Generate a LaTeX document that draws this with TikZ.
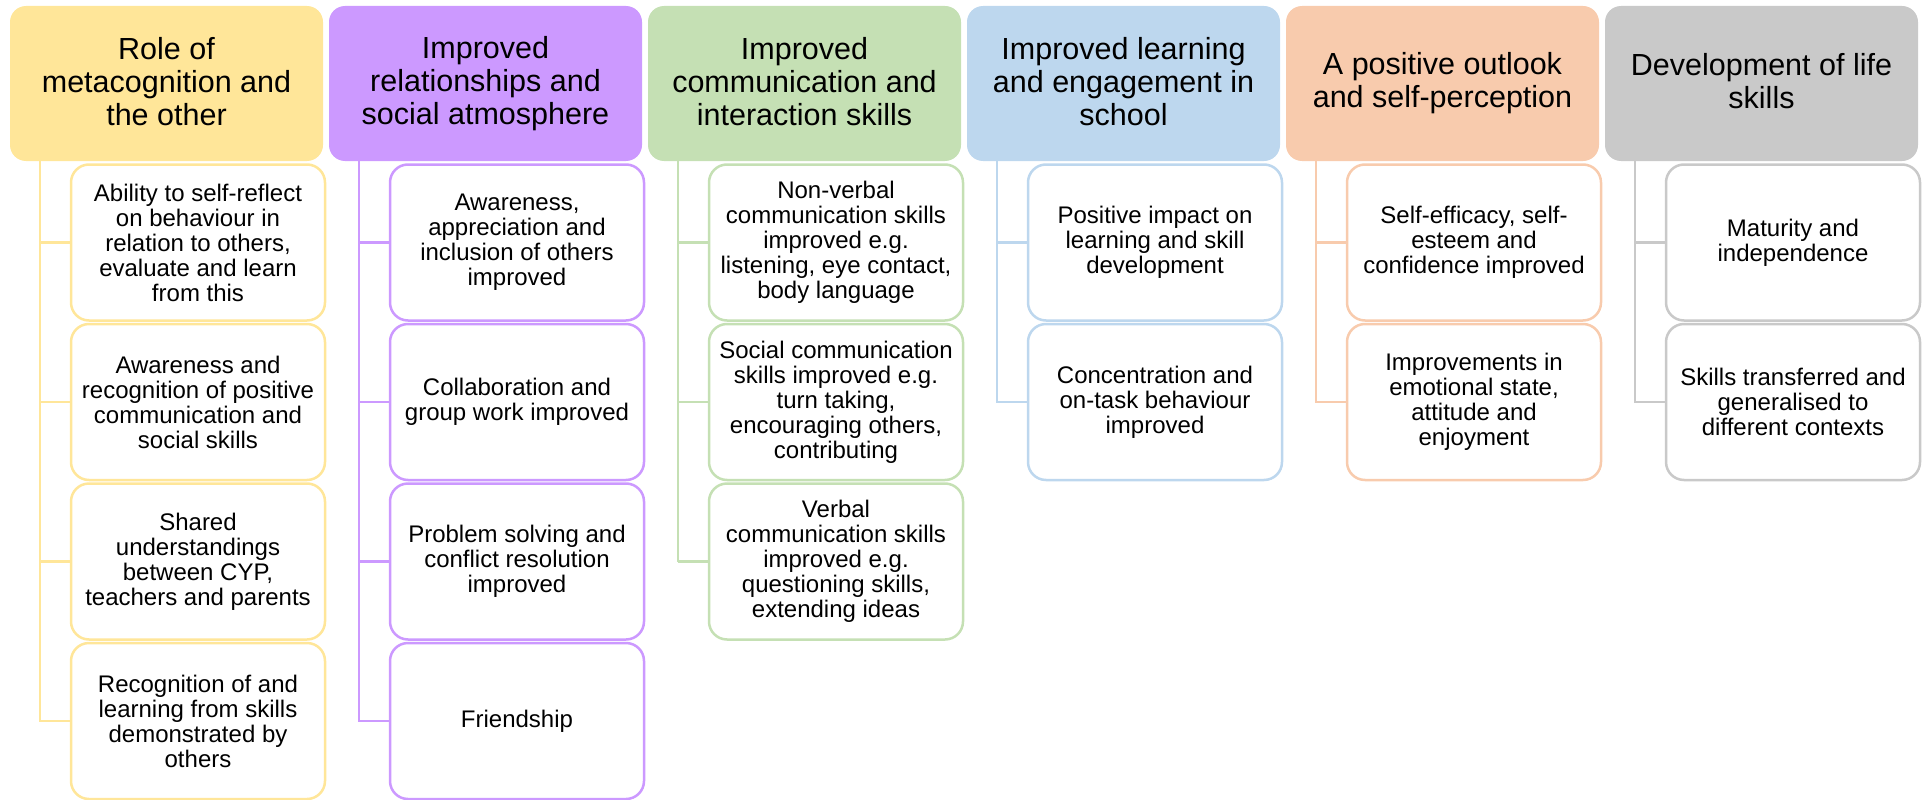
\documentclass[tikz,border=0pt]{standalone}
\usepackage{fontspec}
\setmainfont{Liberation Sans}
\usepackage{xcolor}
\definecolor{colorMeta}{HTML}{FFE699}
\definecolor{colorRelation}{HTML}{CC99FF}
\definecolor{colorComm}{HTML}{C5E0B4}
\definecolor{colorLearn}{HTML}{BDD7EE}
\definecolor{colorOutlook}{HTML}{F8CBAD}
\definecolor{colorLife}{HTML}{C9C9C9}
\usepackage{tikz}
\usetikzlibrary{positioning}
\tikzset{head/.style={rectangle, rounded corners=16pt, minimum width=313pt, minimum height=155pt, inner sep=4pt, outer sep=0pt, align=center, font=\fontsize{30.5}{33}\selectfont, execute at begin node=\rule{0pt}{28pt}, execute at end node=\rule[-5pt]{0pt}{5pt}}}
\tikzset{theme/.style={rectangle, draw, fill=white, line width=2.5pt, rounded corners=18pt, minimum width=254pt, minimum height=156pt, inner sep=4pt, outer sep=0pt, align=center, font=\fontsize{24}{25}\selectfont}}

\begin{document}
\begin{tikzpicture}[x=1pt, y=1pt, node distance=3.5pt, link/.style={line width=2.5pt}]
\useasboundingbox (0,0) rectangle (1928,-800);
% headers
\node[head, fill=colorMeta, anchor=north west] (c1) at (10,-6) {Role of\\metacognition and\\the other};
\node[head, fill=colorRelation, right=6pt of c1] (c2) {Improved\\relationships and\\social atmosphere};
\node[head, fill=colorComm, right=6pt of c2] (c3) {Improved\\communication and\\interaction skills};
\node[head, fill=colorLearn, right=6pt of c3] (c4) {Improved learning\\and engagement in\\school};
\node[head, fill=colorOutlook, right=6pt of c4] (c5) {A positive outlook\\and self-perception};
\node[head, fill=colorLife, right=6pt of c5] (c6) {Development of life\\skills};
% connectors
\draw [link, colorMeta] ([xshift=30pt]c1.south west) -- ([xshift=30pt]c1.south west |- 0,-722);
\draw [link, colorRelation] ([xshift=30pt]c2.south west) -- ([xshift=30pt]c2.south west |- 0,-722);
\draw [link, colorComm] ([xshift=30pt]c3.south west) -- ([xshift=30pt]c3.south west |- 0,-562);
\draw [link, colorLearn] ([xshift=30pt]c4.south west) -- ([xshift=30pt]c4.south west |- 0,-403);
\draw [link, colorOutlook] ([xshift=30pt]c5.south west) -- ([xshift=30pt]c5.south west |- 0,-403);
\draw [link, colorLife] ([xshift=30pt]c6.south west) -- ([xshift=30pt]c6.south west |- 0,-403);
% themes
\node[theme, draw=colorMeta, below right=3.5pt and 61pt of c1.south west] (c1a) {Ability to self-reflect\\on behaviour in\\relation to others,\\evaluate and learn\\from this};
\node[theme, draw=colorMeta, below=of c1a] (c1b) {Awareness and\\recognition of positive\\communication and\\social skills};
\node[theme, draw=colorMeta, below=of c1b] (c1c) {Shared\\understandings\\between CYP,\\teachers and parents};
\node[theme, draw=colorMeta, below=of c1c] (c1d) {Recognition of and\\learning from skills\\demonstrated by\\others};
\node[theme, draw=colorRelation, below right=3.5pt and 61pt of c2.south west] (c2a) {Awareness,\\appreciation and\\inclusion of others\\improved};
\node[theme, draw=colorRelation, below=of c2a] (c2b) {Collaboration and\\group work improved};
\node[theme, draw=colorRelation, below=of c2b] (c2c) {Problem solving and\\conflict resolution\\improved};
\node[theme, draw=colorRelation, below=of c2c] (c2d) {Friendship};
\node[theme, draw=colorComm, below right=3.5pt and 61pt of c3.south west] (c3a) {Non-verbal\\communication skills\\improved e.g.\\listening, eye contact,\\body language};
\node[theme, draw=colorComm, below=of c3a] (c3b) {Social communication\\skills improved e.g.\\turn taking,\\encouraging others,\\contributing};
\node[theme, draw=colorComm, below=of c3b] (c3c) {Verbal\\communication skills\\improved e.g.\\questioning skills,\\extending ideas};
\node[theme, draw=colorLearn, below right=3.5pt and 61pt of c4.south west] (c4a) {Positive impact on\\learning and skill\\development};
\node[theme, draw=colorLearn, below=of c4a] (c4b) {Concentration and\\on-task behaviour\\improved};
\node[theme, draw=colorOutlook, below right=3.5pt and 61pt of c5.south west] (c5a) {Self-efficacy, self-\\esteem and\\confidence improved};
\node[theme, draw=colorOutlook, below=of c5a] (c5b) {Improvements in\\emotional state,\\attitude and\\enjoyment};
\node[theme, draw=colorLife, below right=3.5pt and 61pt of c6.south west] (c6a) {Maturity and\\independence};
\node[theme, draw=colorLife, below=of c6a] (c6b) {Skills transferred and\\generalised to\\different contexts};
% ticks
\foreach \n in {a,b,c,d} {
  \draw [link, colorMeta] ([xshift=30pt]c1.south west |- c1\n.west) -- (c1\n.west);
  \draw [link, colorRelation] ([xshift=30pt]c2.south west |- c2\n.west) -- (c2\n.west);
}
\foreach \n in {a,b,c}
  \draw [link, colorComm] ([xshift=30pt]c3.south west |- c3\n.west) -- (c3\n.west);
\foreach \n in {a,b} {
  \draw [link, colorLearn] ([xshift=30pt]c4.south west |- c4\n.west) -- (c4\n.west);
  \draw [link, colorOutlook] ([xshift=30pt]c5.south west |- c5\n.west) -- (c5\n.west);
  \draw [link, colorLife] ([xshift=30pt]c6.south west |- c6\n.west) -- (c6\n.west);
}
\end{tikzpicture}
\end{document}
